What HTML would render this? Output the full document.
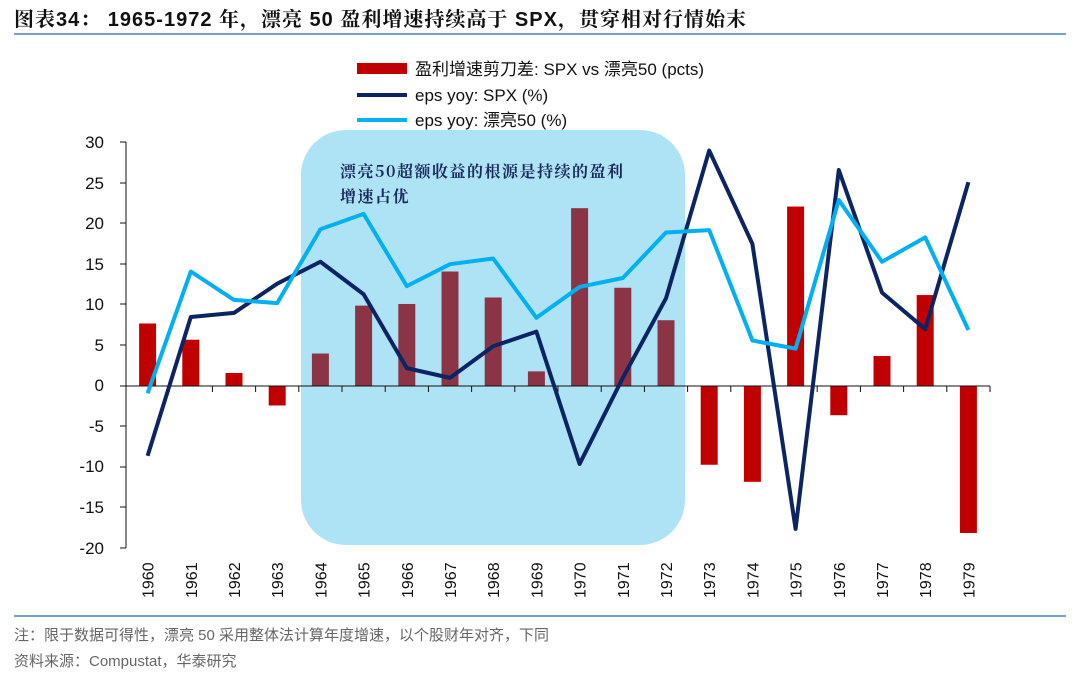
<!DOCTYPE html>
<html><head><meta charset="utf-8"><style>
body{margin:0;background:#fff;}
svg{display:block;font-family:"Liberation Sans","Noto Sans CJK SC",sans-serif;}
</style></head><body>
<svg width="1080" height="676" viewBox="0 0 1080 676" xmlns="http://www.w3.org/2000/svg">
<text x="14" y="26" font-size="20" font-weight="bold" fill="#111" letter-spacing="1" font-family="Liberation Sans,'Noto Serif CJK SC',serif">图表34： 1965-1972 年，漂亮 50 盈利增速持续高于 SPX，贯穿相对行情始末</text>
<line x1="14" y1="34" x2="1066" y2="34" stroke="#4a7fc1" stroke-width="1.5"/>
<rect x="301" y="130" width="384" height="415" rx="45" fill="#aee3f6"/>
<text x="340" y="177" font-size="16" font-weight="bold" fill="#1a2a5a" letter-spacing="1.5" font-family="'Noto Serif CJK SC',serif">漂亮50超额收益的根源是持续的盈利</text>
<text x="340" y="202" font-size="16" font-weight="bold" fill="#1a2a5a" letter-spacing="1.5" font-family="'Noto Serif CJK SC',serif">增速占优</text>
<g font-size="17" fill="#111" text-anchor="end">
<text x="104" y="148">30</text><text x="104" y="189">25</text><text x="104" y="229">20</text><text x="104" y="270">15</text><text x="104" y="310">10</text><text x="104" y="351">5</text><text x="104" y="391">0</text><text x="104" y="432">-5</text><text x="104" y="472">-10</text><text x="104" y="513">-15</text><text x="104" y="554">-20</text>
</g>
<line x1="126" y1="142" x2="126" y2="548" stroke="#111"/>
<g stroke="#111"><line x1="120" y1="142" x2="126" y2="142"/><line x1="120" y1="183" x2="126" y2="183"/><line x1="120" y1="223" x2="126" y2="223"/><line x1="120" y1="264" x2="126" y2="264"/><line x1="120" y1="304" x2="126" y2="304"/><line x1="120" y1="345" x2="126" y2="345"/><line x1="120" y1="386" x2="126" y2="386"/><line x1="120" y1="426" x2="126" y2="426"/><line x1="120" y1="467" x2="126" y2="467"/><line x1="120" y1="507" x2="126" y2="507"/><line x1="120" y1="548" x2="126" y2="548"/></g>
<g id="bars"></g>
<line x1="126" y1="386" x2="990" y2="386" stroke="#111"/>
<g id="ticks" stroke="#111"></g>
<polyline id="spx" fill="none" stroke="#0c2461" stroke-width="4" stroke-linejoin="round"/>
<polyline id="n50" fill="none" stroke="#00b0f0" stroke-width="4" stroke-linejoin="round"/>
<g id="xl" font-size="16" fill="#111"></g>
<rect x="357" y="63" width="50" height="11" fill="#c00000"/>
<text x="415" y="75" font-size="17" fill="#111">盈利增速剪刀差: SPX vs 漂亮50 (pcts)</text>
<line x1="357" y1="95" x2="407" y2="95" stroke="#0c2461" stroke-width="4"/>
<text x="415" y="101" font-size="17" fill="#111">eps yoy: SPX (%)</text>
<line x1="357" y1="120" x2="407" y2="120" stroke="#00b0f0" stroke-width="4"/>
<text x="415" y="126" font-size="17" fill="#111">eps yoy: 漂亮50 (%)</text>
<line x1="14" y1="616" x2="1066" y2="616" stroke="#4a7fc1" stroke-width="1.5"/>
<text x="14" y="640" font-size="15" fill="#666">注：限于数据可得性，漂亮 50 采用整体法计算年度增速，以个股财年对齐，下同</text>
<text x="14" y="666" font-size="15" fill="#666">资料来源：Compustat，华泰研究</text>
<script>
var bars=[7.7,5.7,1.6,-2.4,4.0,9.9,10.1,14.1,10.9,1.8,21.9,12.1,8.1,-9.7,-11.8,22.1,-3.6,3.7,11.2,-18.1];
var spx=[-8.6,8.5,9.0,12.6,15.3,11.3,2.2,1.0,4.9,6.7,-9.6,1.0,10.8,29.0,17.5,-17.6,26.6,11.5,7.0,25.1];
var n50=[-0.9,14.1,10.6,10.2,19.3,21.2,12.3,15.0,15.7,8.4,12.2,13.3,18.9,19.2,5.6,4.6,22.9,15.3,18.3,6.9];
function Y(v){return 386-v*8.12}
function X(i){return 126+43.2*(i+0.5)}
var ns="http://www.w3.org/2000/svg",b=document.getElementById('bars'),t=document.getElementById('ticks'),xl=document.getElementById('xl');
for(var i=0;i<20;i++){
 var r=document.createElementNS(ns,'rect'),v=bars[i];
 r.setAttribute('x',X(i)-8.5);r.setAttribute('width',17);
 r.setAttribute('y',Math.min(Y(v),386));r.setAttribute('height',Math.abs(v*8.12));
 r.setAttribute('fill',(i>=4&&i<=12)?'#8b3446':'#c00000');b.appendChild(r);
 var l=document.createElementNS(ns,'line');var xx=126+43.2*(i+1);
 l.setAttribute('x1',xx);l.setAttribute('x2',xx);l.setAttribute('y1',386);l.setAttribute('y2',392);t.appendChild(l);
 var tx=document.createElementNS(ns,'text');tx.textContent=1960+i;
 tx.setAttribute('transform','translate('+(X(i)+6)+',598) rotate(-90)');xl.appendChild(tx);
}
document.getElementById('spx').setAttribute('points',spx.map(function(v,i){return X(i)+','+Y(v)}).join(' '));
document.getElementById('n50').setAttribute('points',n50.map(function(v,i){return X(i)+','+Y(v)}).join(' '));
</script>
</svg>
</body></html>
